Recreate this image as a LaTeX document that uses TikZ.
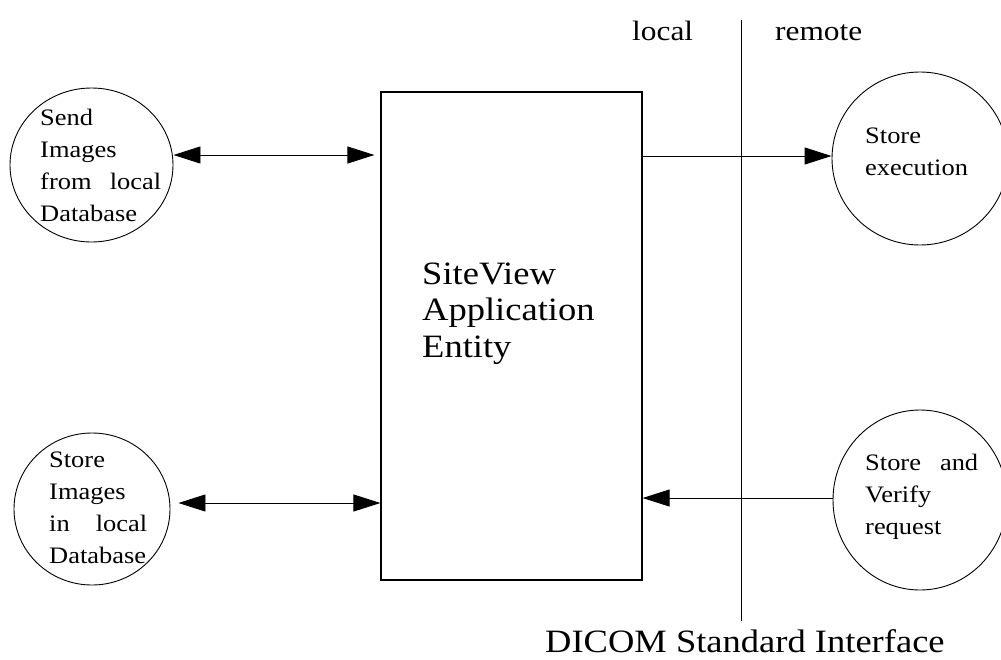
\documentclass[tikz,border=0pt]{standalone}
\usepackage{fontspec}
\setmainfont[FakeStretch=1.12]{Liberation Serif}
\usetikzlibrary{arrows.meta,shapes.geometric}
\newcommand{\ctext}[2]{\vtop{\hsize=#1\relax\raggedright #2}}
\begin{document}
\begin{tikzpicture}[x=1pt,y=-1pt,
  bubble/.style={draw, ellipse, line width=0.9pt, inner sep=0pt},
  ctxt/.style={anchor=base west, inner sep=0pt, font=\fontsize{23.6}{32}\selectfont},
  big/.style={anchor=base west, inner sep=0pt, font=\fontsize{32.6}{36.5}\selectfont},
  side/.style={anchor=base west, inner sep=0pt, font=\fontsize{28}{32}\selectfont},
  conn/.style={line width=0.9pt, -{Triangle[length=27pt,width=17pt]}},
  dconn/.style={line width=0.9pt, {Triangle[length=27pt,width=17pt]}-{Triangle[length=27pt,width=17pt]}}]
\useasboundingbox (0,0) rectangle (1001,659);
\clip (0,0) rectangle (1001,659);
% shapes
\node[bubble, minimum width=163pt, minimum height=154pt] (send) at (91.5,165) {};
\node[bubble, minimum width=156pt, minimum height=152pt] (storeimg) at (92,509) {};
\node[bubble, minimum width=176pt, minimum height=173pt] (exec) at (920,158.5) {};
\node[bubble, minimum width=174pt, minimum height=180pt] (verify) at (920,500) {};
\node[draw, line width=1.2pt, minimum width=261pt, minimum height=488pt, inner sep=0pt] (ae) at (511.5,336) {};
% divider
\coordinate (dtop) at (741,20);
\coordinate (dbot) at (741,621);
\draw[line width=1pt] (dtop) -- (dbot);
% texts
\node[ctxt] (sendtxt) at (40,125) {\ctext{121pt}{Send\\Images\\from\hfill local\\Database}};
\node[ctxt] (storeimgtxt) at (49,467) {\ctext{98pt}{Store\\Images\\in\hfill local\\Database}};
\node[ctxt] (exectxt) at (865,143) {\ctext{120pt}{Store\\execution}};
\node[ctxt] (verifytxt) at (865,470) {\ctext{113pt}{Store\hfill and\\Verify\\request}};
\node[big] (aetxt) at (422,284) {\ctext{200pt}{SiteView\\Application\\Entity}};
\node[side] (localtxt) at (632,40) {local};
\node[side] (remotetxt) at (775,40) {remote};
\node[big] (dicomtxt) at (545,652) {DICOM Standard Interface};
% connectors
\draw[dconn, shorten >=6pt] (send.east |- 0,155) -- (ae.west |- 0,155);
\draw[dconn, shorten <=8pt] (storeimg.east |- 0,503) -- (ae.west |- 0,503);
\draw[conn] (ae.east |- 0,156) -- (exec.west |- 0,156);
\draw[conn] (verify.west |- 0,498) -- (ae.east |- 0,498);
\end{tikzpicture}
\end{document}
